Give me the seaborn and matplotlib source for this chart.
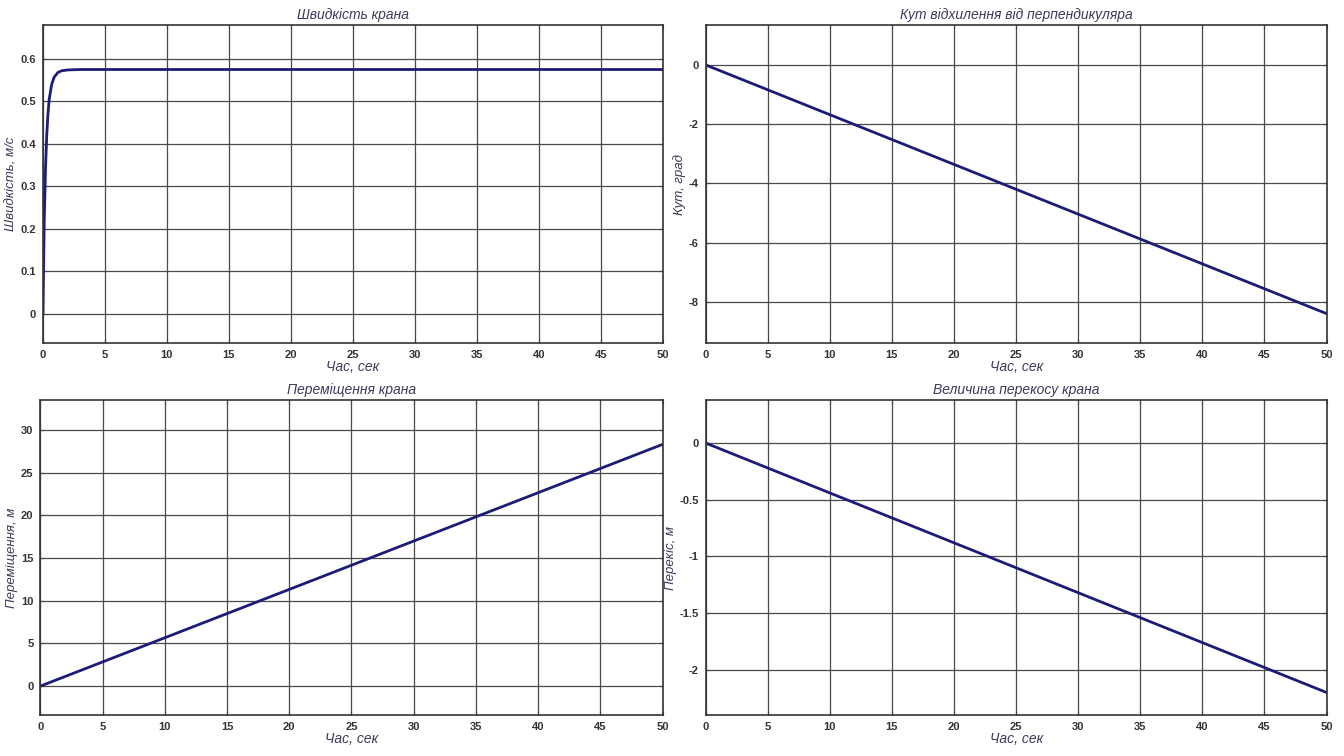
import numpy as np
import pandas as pd
import matplotlib
matplotlib.use("Agg")
import matplotlib.pyplot as plt
import seaborn as sns

# Crane speed, m/s (fast start then steady)
speed_t = [0, 0.05, 0.1, 0.2, 0.3, 0.4, 0.5, 0.7, 0.9, 1.2, 1.5, 2.0, 3.0, 50]
speed_v = [0, 0.12, 0.22, 0.34, 0.42, 0.47, 0.505, 0.54, 0.557, 0.568, 0.572, 0.574, 0.575, 0.575]

# Deviation angle from perpendicular, deg
angle_t = [0, 50]
angle_v = [0, -8.4]

# Crane displacement, m
disp_t = [0, 50]
disp_v = [0, 28.3]

# Crane skew, m
skew_t = [0, 50]
skew_v = [0, -2.2]

x_ticks = list(range(0, 51, 5))

panels = [
    dict(t=speed_t, v=speed_v, title="Швидкість крана", ylabel="Швидкість, м/с",
         ylim=(-0.07, 0.68), yticks=[0, 0.1, 0.2, 0.3, 0.4, 0.5, 0.6],
         pos=[0.032, 0.546, 0.461, 0.421], xlabel="Час, сек"),
    dict(t=angle_t, v=angle_v, title="Кут відхилення від перпендикуляра", ylabel="Кут, град",
         ylim=(-9.4, 1.35), yticks=[0, -2, -4, -6, -8],
         pos=[0.525, 0.546, 0.462, 0.421], xlabel="Час, сек"),
    dict(t=disp_t, v=disp_v, title="Переміщення крана", ylabel="Переміщення, м",
         ylim=(-3.4, 33.5), yticks=[0, 5, 10, 15, 20, 25, 30],
         pos=[0.030, 0.054, 0.463, 0.417], xlabel="Час, сек"),
    dict(t=skew_t, v=skew_v, title="Величина перекосу крана", ylabel="Перекіс, м",
         ylim=(-2.4, 0.38), yticks=[0, -0.5, -1, -1.5, -2],
         pos=[0.525, 0.054, 0.462, 0.417], xlabel="Час, сек"),
]

sns.set_theme(style="white")
plt.rcParams["font.family"] = ["Liberation Sans Narrow", "Liberation Sans", "DejaVu Sans"]

fig = plt.figure(figsize=(13.44, 7.56), dpi=100)
fig.patch.set_facecolor("white")

line_color = "#1c1c78"
grid_color = "#4a4a4a"
text_color = "#3a3a5a"

for p in panels:
    ax = fig.add_axes(p["pos"])
    df = pd.DataFrame({"t": p["t"], "v": p["v"]})
    sns.lineplot(data=df, x="t", y="v", ax=ax, color=line_color, linewidth=2.0,
                 estimator=None, sort=False)
    ax.set_xlim(0, 50)
    ax.set_ylim(*p["ylim"])
    ax.set_xticks(x_ticks)
    ax.set_yticks(p["yticks"])
    ax.set_xticklabels([str(x) for x in x_ticks], fontsize=8, color="#222222",
                       fontweight="bold")
    ax.set_yticklabels([f"{y:g}" for y in p["yticks"]], fontsize=8, color="#222222",
                       fontweight="bold")
    ax.grid(True, color=grid_color, linewidth=0.9)
    ax.set_axisbelow(True)
    ax.tick_params(direction="in", length=3, width=0.8, top=True, right=True,
                   left=True, bottom=True, pad=5, colors="#444444", labelcolor="#333333")
    for s in ax.spines.values():
        s.set_color("#333333")
        s.set_linewidth(1.2)
    ax.set_title(p["title"], fontsize=10, style="italic", color=text_color, pad=4)
    ax.set_xlabel(p["xlabel"], fontsize=10, style="italic", color=text_color, labelpad=0)
    ax.set_ylabel(p["ylabel"], fontsize=9.5, style="italic", color=text_color, labelpad=2)

fig.savefig("out.png", dpi=100, facecolor="white")
